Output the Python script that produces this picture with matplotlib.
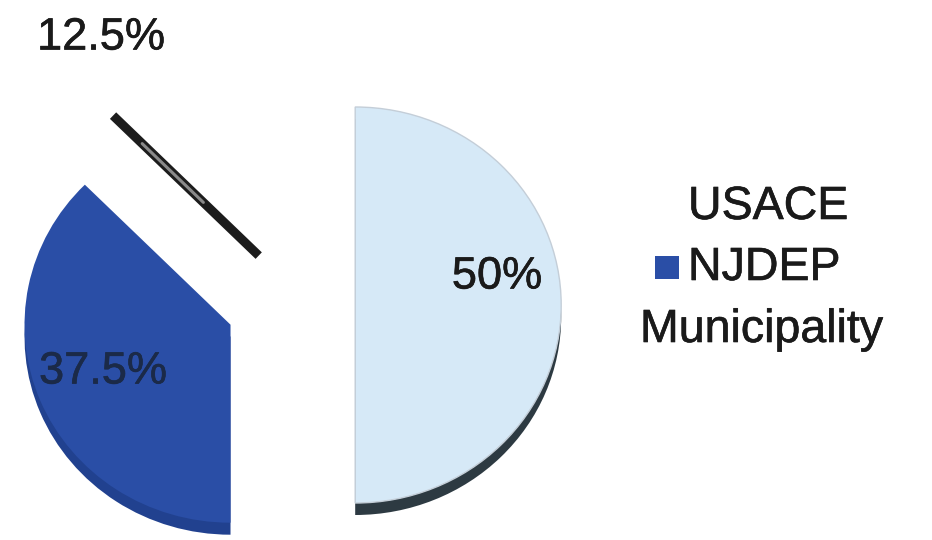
import matplotlib
matplotlib.use('Agg')
import matplotlib.pyplot as plt
import matplotlib.patheffects as pe
from matplotlib.patches import Rectangle
import numpy as np

categories = ['USACE', 'NJDEP', 'Municipality']
values = [50, 37.5, 12.5]
pct_labels = ['50%', '37.5%', '12.5%']
face_colors = ['#d6e9f7', '#2a4ea6', '#ffffff']
side_colors = ['#2d3a42', '#21418f', '#ffffff']
legend_colors = ['#ffffff', '#2a4ea6', '#ffffff']
explode = [0.365, 0.26, 0.27]

plt.rcParams['font.family'] = ['Liberation Sans', 'DejaVu Sans']

W, H = 932, 540
fig = plt.figure(figsize=(W / 100, H / 100), dpi=100)
ax = fig.add_axes([0, 0, 1, 1])

RX, RY = 206, 198      # pixel radii of the tilted pie
CX, CY = 280, 305      # pixel position of the pie centre
depth = 12 / RY

# 3D side (drawn first, shifted down)
ax.pie(values, explode=explode, startangle=90, counterclock=False,
       colors=side_colors, center=(0, -depth), radius=1,
       wedgeprops=dict(linewidth=0))
# top faces
wedges, _ = ax.pie(values, explode=explode, startangle=90, counterclock=False,
                   colors=face_colors, center=(0, 0), radius=1,
                   wedgeprops=dict(linewidth=0))
wedges[0].set_edgecolor('#c4ced8')
wedges[0].set_linewidth(1.0)

# dark cut face of the white Municipality slice
w = wedges[2]
cx0, cy0 = w.center
ang = np.deg2rad(w.theta2)
xs = [cx0, cx0 + w.r * np.cos(ang)]
ys = [cy0, cy0 + w.r * np.sin(ang)]
ax.plot(xs, ys, color='#1c1c1c', lw=6.5, solid_capstyle='butt', zorder=5)
f0, f1 = 0.38, 0.80
ax.plot([xs[0] + (xs[1] - xs[0]) * f0, xs[0] + (xs[1] - xs[0]) * f1],
        [ys[0] + (ys[1] - ys[0]) * f0, ys[0] + (ys[1] - ys[0]) * f1],
        color='#8a8a8a', lw=2.2, solid_capstyle='round', zorder=6)

ax.set_aspect('auto')
ax.set_xlim(-CX / RX, (W - CX) / RX)
ax.set_ylim(-(H - CY) / RY, CY / RY)
ax.axis('off')

# percentage labels
label_pos = [((497 - CX) / RX, (CY - 277) / RY),
             ((103 - CX) / RX, (CY - 372) / RY),
             ((101 - CX) / RX, (CY - 38) / RY)]
label_colors = ['#1a1a1a', '#1b2a48', '#1a1a1a']
for txt, (x, y), c in zip(pct_labels, label_pos, label_colors):
    ax.text(x, y, txt, fontsize=32.5, color=c, ha='center', va='center', zorder=10,
            path_effects=[pe.withStroke(linewidth=0.45, foreground=c)])

# legend
leg_text_x = [688, 688, 640]
leg_text_y = [207, 268, 330]
for name, lx, ly, col in zip(categories, leg_text_x, leg_text_y, legend_colors):
    fig.text(lx / W, 1 - ly / H, name, fontsize=33.5, color='#1a1a1a',
             ha='left', va='center',
             path_effects=[pe.withStroke(linewidth=0.45, foreground='#1a1a1a')])
    if col != '#ffffff':
        fig.patches.append(Rectangle(((lx - 33) / W, 1 - (ly + 11) / H),
                                     24 / W, 23 / H, transform=fig.transFigure,
                                     facecolor=col, edgecolor='none'))

fig.savefig('out.png', dpi=100, facecolor='white')
